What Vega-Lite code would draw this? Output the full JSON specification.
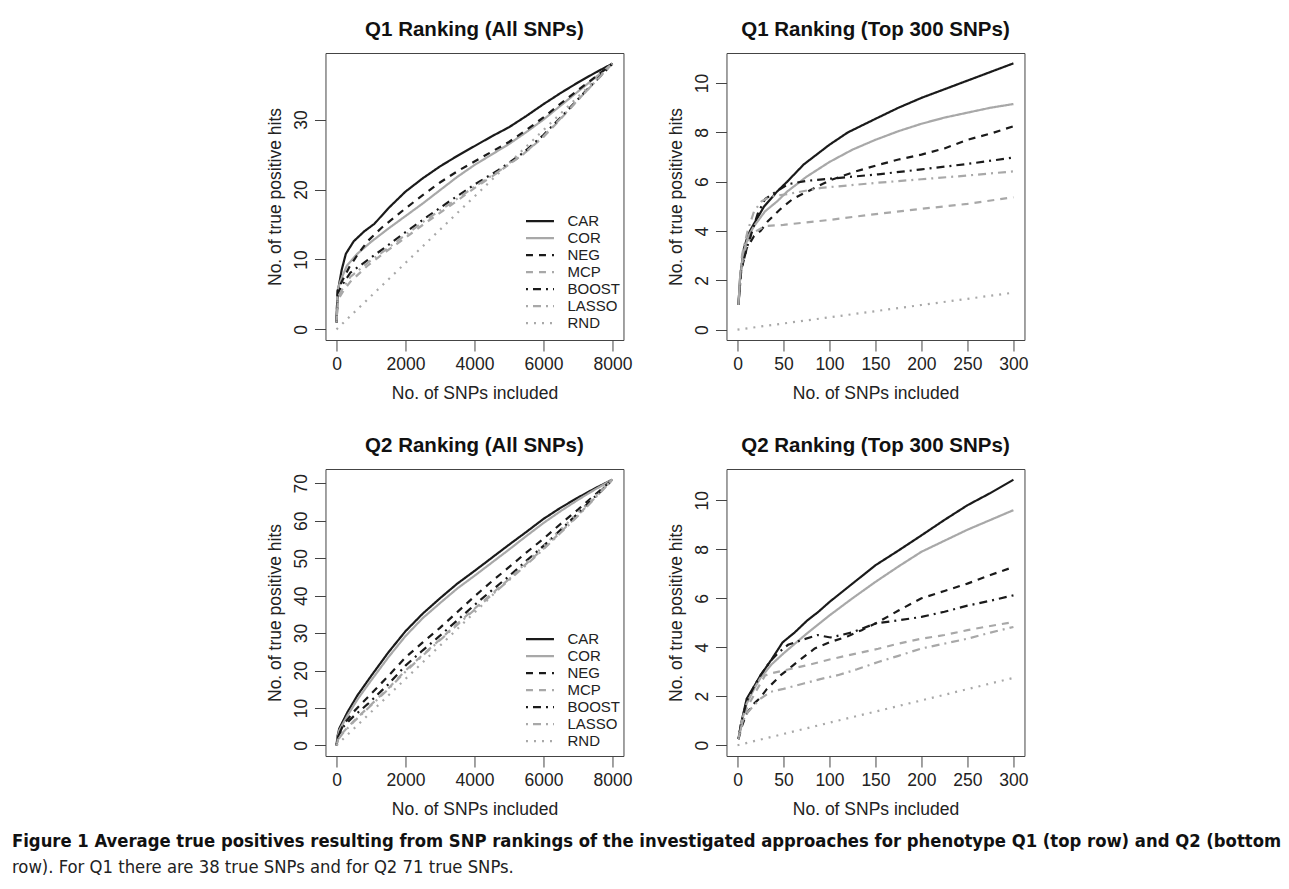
{
"$schema": "https://vega.github.io/schema/vega-lite/v6.json",
"background": "white",
"padding": {"left": 12, "top": 19, "right": 0, "bottom": 0},
"datasets": {
"q1all": [
{"m":"CAR","x":0,"y":1},{"m":"CAR","x":20,"y":4},{"m":"CAR","x":60,"y":6},{"m":"CAR","x":150,"y":8.5},{"m":"CAR","x":270,"y":10.8},{"m":"CAR","x":500,"y":12.6},{"m":"CAR","x":800,"y":14},{"m":"CAR","x":1100,"y":15.1},{"m":"CAR","x":1500,"y":17.3},{"m":"CAR","x":2000,"y":19.7},{"m":"CAR","x":2500,"y":21.6},{"m":"CAR","x":3000,"y":23.3},{"m":"CAR","x":3500,"y":24.8},{"m":"CAR","x":4000,"y":26.2},{"m":"CAR","x":4500,"y":27.6},{"m":"CAR","x":5000,"y":28.9},{"m":"CAR","x":5500,"y":30.5},{"m":"CAR","x":6000,"y":32.2},{"m":"CAR","x":6500,"y":33.8},{"m":"CAR","x":7000,"y":35.3},{"m":"CAR","x":7500,"y":36.7},{"m":"CAR","x":8000,"y":38},
{"m":"COR","x":0,"y":1},{"m":"COR","x":30,"y":5.6},{"m":"COR","x":120,"y":7},{"m":"COR","x":300,"y":9.1},{"m":"COR","x":600,"y":10.8},{"m":"COR","x":1000,"y":12.5},{"m":"COR","x":1500,"y":14.4},{"m":"COR","x":2000,"y":16.2},{"m":"COR","x":2500,"y":18},{"m":"COR","x":3000,"y":19.9},{"m":"COR","x":3500,"y":21.8},{"m":"COR","x":4000,"y":23.5},{"m":"COR","x":4500,"y":25},{"m":"COR","x":5000,"y":26.5},{"m":"COR","x":5500,"y":28.2},{"m":"COR","x":6000,"y":30},{"m":"COR","x":6500,"y":32},{"m":"COR","x":7000,"y":34},{"m":"COR","x":7500,"y":36},{"m":"COR","x":8000,"y":38},
{"m":"NEG","x":0,"y":1},{"m":"NEG","x":30,"y":5.5},{"m":"NEG","x":100,"y":6.3},{"m":"NEG","x":370,"y":8.9},{"m":"NEG","x":600,"y":10.6},{"m":"NEG","x":900,"y":12.6},{"m":"NEG","x":1300,"y":14.5},{"m":"NEG","x":2000,"y":17.3},{"m":"NEG","x":2500,"y":19.2},{"m":"NEG","x":3000,"y":21},{"m":"NEG","x":3500,"y":22.6},{"m":"NEG","x":4000,"y":24},{"m":"NEG","x":4500,"y":25.4},{"m":"NEG","x":5000,"y":26.8},{"m":"NEG","x":5500,"y":28.5},{"m":"NEG","x":6000,"y":30.3},{"m":"NEG","x":6500,"y":32.3},{"m":"NEG","x":7000,"y":34.2},{"m":"NEG","x":7500,"y":36.1},{"m":"NEG","x":8000,"y":38},
{"m":"MCP","x":0,"y":1},{"m":"MCP","x":40,"y":4.2},{"m":"MCP","x":200,"y":5.5},{"m":"MCP","x":400,"y":6.8},{"m":"MCP","x":900,"y":9.1},{"m":"MCP","x":1400,"y":11},{"m":"MCP","x":2000,"y":13.1},{"m":"MCP","x":2600,"y":15.3},{"m":"MCP","x":3300,"y":17.7},{"m":"MCP","x":4000,"y":20.2},{"m":"MCP","x":4700,"y":22.5},{"m":"MCP","x":5400,"y":25},{"m":"MCP","x":6000,"y":27.5},{"m":"MCP","x":6500,"y":30.1},{"m":"MCP","x":7000,"y":32.8},{"m":"MCP","x":7500,"y":35.4},{"m":"MCP","x":8000,"y":38},
{"m":"BOOST","x":0,"y":1},{"m":"BOOST","x":40,"y":5},{"m":"BOOST","x":120,"y":6},{"m":"BOOST","x":400,"y":8.1},{"m":"BOOST","x":900,"y":9.9},{"m":"BOOST","x":1400,"y":11.7},{"m":"BOOST","x":2000,"y":13.9},{"m":"BOOST","x":2600,"y":16},{"m":"BOOST","x":3300,"y":18.4},{"m":"BOOST","x":4000,"y":20.7},{"m":"BOOST","x":4700,"y":22.8},{"m":"BOOST","x":5400,"y":25.2},{"m":"BOOST","x":6000,"y":27.8},{"m":"BOOST","x":6500,"y":30.3},{"m":"BOOST","x":7000,"y":32.9},{"m":"BOOST","x":7500,"y":35.5},{"m":"BOOST","x":8000,"y":38},
{"m":"LASSO","x":0,"y":1},{"m":"LASSO","x":40,"y":4.6},{"m":"LASSO","x":150,"y":5.6},{"m":"LASSO","x":400,"y":7.5},{"m":"LASSO","x":900,"y":9.5},{"m":"LASSO","x":1400,"y":11.3},{"m":"LASSO","x":2000,"y":13.5},{"m":"LASSO","x":2600,"y":15.7},{"m":"LASSO","x":3300,"y":18},{"m":"LASSO","x":4000,"y":20.4},{"m":"LASSO","x":4700,"y":22.6},{"m":"LASSO","x":5400,"y":25},{"m":"LASSO","x":6000,"y":27.6},{"m":"LASSO","x":6500,"y":30.2},{"m":"LASSO","x":7000,"y":32.8},{"m":"LASSO","x":7500,"y":35.4},{"m":"LASSO","x":8000,"y":38},
{"m":"RND","x":0,"y":0},{"m":"RND","x":2000,"y":9.5},{"m":"RND","x":4000,"y":19},{"m":"RND","x":6000,"y":28.5},{"m":"RND","x":8000,"y":38}
],
"q1top": [
{"m":"CAR","x":1,"y":1},{"m":"CAR","x":3,"y":2.2},{"m":"CAR","x":7,"y":3.3},{"m":"CAR","x":12,"y":3.9},{"m":"CAR","x":18,"y":4.3},{"m":"CAR","x":29,"y":5},{"m":"CAR","x":43,"y":5.6},{"m":"CAR","x":54,"y":6},{"m":"CAR","x":72,"y":6.7},{"m":"CAR","x":100,"y":7.5},{"m":"CAR","x":120,"y":8},{"m":"CAR","x":150,"y":8.55},{"m":"CAR","x":175,"y":9},{"m":"CAR","x":200,"y":9.4},{"m":"CAR","x":225,"y":9.75},{"m":"CAR","x":250,"y":10.1},{"m":"CAR","x":275,"y":10.45},{"m":"CAR","x":300,"y":10.8},
{"m":"COR","x":1,"y":1},{"m":"COR","x":3,"y":2.2},{"m":"COR","x":7,"y":3.2},{"m":"COR","x":12,"y":3.8},{"m":"COR","x":18,"y":4.2},{"m":"COR","x":30,"y":4.8},{"m":"COR","x":43,"y":5.2},{"m":"COR","x":54,"y":5.6},{"m":"COR","x":75,"y":6.2},{"m":"COR","x":100,"y":6.8},{"m":"COR","x":125,"y":7.3},{"m":"COR","x":150,"y":7.7},{"m":"COR","x":175,"y":8.05},{"m":"COR","x":200,"y":8.35},{"m":"COR","x":225,"y":8.6},{"m":"COR","x":250,"y":8.8},{"m":"COR","x":275,"y":9},{"m":"COR","x":300,"y":9.15},
{"m":"NEG","x":1,"y":1},{"m":"NEG","x":4,"y":2.4},{"m":"NEG","x":10,"y":3.3},{"m":"NEG","x":18,"y":3.8},{"m":"NEG","x":25,"y":4},{"m":"NEG","x":33,"y":4.4},{"m":"NEG","x":47,"y":4.9},{"m":"NEG","x":60,"y":5.3},{"m":"NEG","x":76,"y":5.6},{"m":"NEG","x":100,"y":6.05},{"m":"NEG","x":127,"y":6.4},{"m":"NEG","x":150,"y":6.65},{"m":"NEG","x":175,"y":6.9},{"m":"NEG","x":200,"y":7.1},{"m":"NEG","x":225,"y":7.35},{"m":"NEG","x":250,"y":7.7},{"m":"NEG","x":275,"y":7.95},{"m":"NEG","x":300,"y":8.25},
{"m":"MCP","x":1,"y":1},{"m":"MCP","x":3,"y":2.2},{"m":"MCP","x":6,"y":2.9},{"m":"MCP","x":10,"y":3.5},{"m":"MCP","x":18,"y":3.95},{"m":"MCP","x":30,"y":4.2},{"m":"MCP","x":50,"y":4.25},{"m":"MCP","x":75,"y":4.35},{"m":"MCP","x":100,"y":4.45},{"m":"MCP","x":142,"y":4.65},{"m":"MCP","x":200,"y":4.9},{"m":"MCP","x":250,"y":5.1},{"m":"MCP","x":300,"y":5.37},
{"m":"BOOST","x":1,"y":1},{"m":"BOOST","x":4,"y":2.4},{"m":"BOOST","x":10,"y":3.3},{"m":"BOOST","x":16,"y":4},{"m":"BOOST","x":22,"y":4.7},{"m":"BOOST","x":30,"y":5.3},{"m":"BOOST","x":42,"y":5.6},{"m":"BOOST","x":55,"y":5.9},{"m":"BOOST","x":76,"y":6.04},{"m":"BOOST","x":100,"y":6.12},{"m":"BOOST","x":153,"y":6.3},{"m":"BOOST","x":200,"y":6.5},{"m":"BOOST","x":250,"y":6.72},{"m":"BOOST","x":300,"y":6.98},
{"m":"LASSO","x":1,"y":1},{"m":"LASSO","x":3,"y":2.2},{"m":"LASSO","x":5,"y":3.05},{"m":"LASSO","x":11,"y":4},{"m":"LASSO","x":18,"y":4.8},{"m":"LASSO","x":26,"y":5.2},{"m":"LASSO","x":36,"y":5.4},{"m":"LASSO","x":55,"y":5.5},{"m":"LASSO","x":91,"y":5.75},{"m":"LASSO","x":150,"y":5.95},{"m":"LASSO","x":200,"y":6.1},{"m":"LASSO","x":250,"y":6.25},{"m":"LASSO","x":300,"y":6.42},
{"m":"RND","x":0,"y":0},{"m":"RND","x":100,"y":0.5},{"m":"RND","x":200,"y":1},{"m":"RND","x":300,"y":1.5}
],
"q2all": [
{"m":"CAR","x":0,"y":0},{"m":"CAR","x":30,"y":2.5},{"m":"CAR","x":80,"y":4.5},{"m":"CAR","x":320,"y":8.9},{"m":"CAR","x":610,"y":13.4},{"m":"CAR","x":1000,"y":18.5},{"m":"CAR","x":1500,"y":24.8},{"m":"CAR","x":2000,"y":30.5},{"m":"CAR","x":2500,"y":35.2},{"m":"CAR","x":3000,"y":39.3},{"m":"CAR","x":3500,"y":43.2},{"m":"CAR","x":4000,"y":46.6},{"m":"CAR","x":4500,"y":50.1},{"m":"CAR","x":5000,"y":53.6},{"m":"CAR","x":5500,"y":57},{"m":"CAR","x":6000,"y":60.5},{"m":"CAR","x":6500,"y":63.5},{"m":"CAR","x":7000,"y":66.2},{"m":"CAR","x":7500,"y":68.7},{"m":"CAR","x":8000,"y":71},
{"m":"COR","x":0,"y":0},{"m":"COR","x":30,"y":2.2},{"m":"COR","x":80,"y":4},{"m":"COR","x":320,"y":8},{"m":"COR","x":610,"y":12.3},{"m":"COR","x":1000,"y":17.3},{"m":"COR","x":1500,"y":23.5},{"m":"COR","x":2000,"y":29.2},{"m":"COR","x":2500,"y":34},{"m":"COR","x":3000,"y":38},{"m":"COR","x":3500,"y":41.9},{"m":"COR","x":4000,"y":45.3},{"m":"COR","x":4500,"y":48.8},{"m":"COR","x":5000,"y":52.3},{"m":"COR","x":5500,"y":55.9},{"m":"COR","x":6000,"y":59.4},{"m":"COR","x":6500,"y":62.6},{"m":"COR","x":7000,"y":65.6},{"m":"COR","x":7500,"y":68.4},{"m":"COR","x":8000,"y":71},
{"m":"NEG","x":0,"y":0},{"m":"NEG","x":50,"y":2.5},{"m":"NEG","x":200,"y":5.5},{"m":"NEG","x":500,"y":9},{"m":"NEG","x":900,"y":12.8},{"m":"NEG","x":1500,"y":18.5},{"m":"NEG","x":2000,"y":23.5},{"m":"NEG","x":2500,"y":27.5},{"m":"NEG","x":3000,"y":31.4},{"m":"NEG","x":3500,"y":35.6},{"m":"NEG","x":4000,"y":39.8},{"m":"NEG","x":4500,"y":43.8},{"m":"NEG","x":5000,"y":47.6},{"m":"NEG","x":5500,"y":51.5},{"m":"NEG","x":6000,"y":55.2},{"m":"NEG","x":6500,"y":59.2},{"m":"NEG","x":7000,"y":63},{"m":"NEG","x":7500,"y":67},{"m":"NEG","x":8000,"y":71},
{"m":"MCP","x":0,"y":0},{"m":"MCP","x":50,"y":1.8},{"m":"MCP","x":200,"y":3.6},{"m":"MCP","x":500,"y":6.5},{"m":"MCP","x":900,"y":10},{"m":"MCP","x":1500,"y":15.2},{"m":"MCP","x":2000,"y":20},{"m":"MCP","x":2500,"y":24.2},{"m":"MCP","x":3000,"y":28.3},{"m":"MCP","x":3500,"y":32.5},{"m":"MCP","x":4000,"y":36.5},{"m":"MCP","x":4500,"y":40.5},{"m":"MCP","x":5000,"y":44.4},{"m":"MCP","x":5500,"y":48.5},{"m":"MCP","x":6000,"y":52.6},{"m":"MCP","x":6500,"y":57},{"m":"MCP","x":7000,"y":61.5},{"m":"MCP","x":7500,"y":66.2},{"m":"MCP","x":8000,"y":71},
{"m":"BOOST","x":0,"y":0},{"m":"BOOST","x":50,"y":2.5},{"m":"BOOST","x":200,"y":5},{"m":"BOOST","x":500,"y":7.8},{"m":"BOOST","x":900,"y":11},{"m":"BOOST","x":1500,"y":16.3},{"m":"BOOST","x":2000,"y":21.3},{"m":"BOOST","x":2500,"y":25.4},{"m":"BOOST","x":3000,"y":29.3},{"m":"BOOST","x":3500,"y":33.4},{"m":"BOOST","x":4000,"y":37.5},{"m":"BOOST","x":4500,"y":41.4},{"m":"BOOST","x":5000,"y":45.2},{"m":"BOOST","x":5500,"y":49.3},{"m":"BOOST","x":6000,"y":53.3},{"m":"BOOST","x":6500,"y":57.6},{"m":"BOOST","x":7000,"y":62},{"m":"BOOST","x":7500,"y":66.5},{"m":"BOOST","x":8000,"y":71},
{"m":"LASSO","x":0,"y":0},{"m":"LASSO","x":50,"y":1.6},{"m":"LASSO","x":200,"y":3.4},{"m":"LASSO","x":500,"y":6.3},{"m":"LASSO","x":900,"y":9.8},{"m":"LASSO","x":1500,"y":15},{"m":"LASSO","x":2000,"y":19.7},{"m":"LASSO","x":2500,"y":24},{"m":"LASSO","x":3000,"y":28.1},{"m":"LASSO","x":3500,"y":32.2},{"m":"LASSO","x":4000,"y":36.2},{"m":"LASSO","x":4500,"y":40.2},{"m":"LASSO","x":5000,"y":44.1},{"m":"LASSO","x":5500,"y":48.2},{"m":"LASSO","x":6000,"y":52.4},{"m":"LASSO","x":6500,"y":56.8},{"m":"LASSO","x":7000,"y":61.3},{"m":"LASSO","x":7500,"y":66.1},{"m":"LASSO","x":8000,"y":71},
{"m":"RND","x":0,"y":0},{"m":"RND","x":2000,"y":17.75},{"m":"RND","x":4000,"y":35.5},{"m":"RND","x":6000,"y":53.25},{"m":"RND","x":8000,"y":71}
],
"q2top": [
{"m":"CAR","x":1,"y":0.25},{"m":"CAR","x":4,"y":0.9},{"m":"CAR","x":10,"y":1.9},{"m":"CAR","x":18,"y":2.4},{"m":"CAR","x":25,"y":2.85},{"m":"CAR","x":37,"y":3.5},{"m":"CAR","x":49,"y":4.2},{"m":"CAR","x":62,"y":4.6},{"m":"CAR","x":76,"y":5.1},{"m":"CAR","x":88,"y":5.45},{"m":"CAR","x":100,"y":5.85},{"m":"CAR","x":125,"y":6.6},{"m":"CAR","x":150,"y":7.35},{"m":"CAR","x":175,"y":7.95},{"m":"CAR","x":200,"y":8.57},{"m":"CAR","x":225,"y":9.2},{"m":"CAR","x":250,"y":9.8},{"m":"CAR","x":275,"y":10.3},{"m":"CAR","x":300,"y":10.84},
{"m":"COR","x":1,"y":0.25},{"m":"COR","x":4,"y":0.9},{"m":"COR","x":10,"y":1.7},{"m":"COR","x":18,"y":2.3},{"m":"COR","x":25,"y":2.75},{"m":"COR","x":37,"y":3.3},{"m":"COR","x":50,"y":3.75},{"m":"COR","x":75,"y":4.55},{"m":"COR","x":100,"y":5.3},{"m":"COR","x":125,"y":6},{"m":"COR","x":150,"y":6.67},{"m":"COR","x":175,"y":7.3},{"m":"COR","x":200,"y":7.9},{"m":"COR","x":225,"y":8.35},{"m":"COR","x":250,"y":8.8},{"m":"COR","x":275,"y":9.2},{"m":"COR","x":300,"y":9.6},
{"m":"NEG","x":1,"y":0.25},{"m":"NEG","x":5,"y":0.8},{"m":"NEG","x":10,"y":1.3},{"m":"NEG","x":18,"y":1.7},{"m":"NEG","x":25,"y":1.95},{"m":"NEG","x":32,"y":2.3},{"m":"NEG","x":47,"y":2.86},{"m":"NEG","x":65,"y":3.4},{"m":"NEG","x":84,"y":3.95},{"m":"NEG","x":100,"y":4.2},{"m":"NEG","x":120,"y":4.45},{"m":"NEG","x":135,"y":4.7},{"m":"NEG","x":153,"y":5.03},{"m":"NEG","x":175,"y":5.5},{"m":"NEG","x":200,"y":6},{"m":"NEG","x":225,"y":6.3},{"m":"NEG","x":250,"y":6.6},{"m":"NEG","x":275,"y":6.95},{"m":"NEG","x":300,"y":7.28},
{"m":"MCP","x":1,"y":0.25},{"m":"MCP","x":5,"y":0.9},{"m":"MCP","x":10,"y":1.5},{"m":"MCP","x":20,"y":2.2},{"m":"MCP","x":30,"y":2.85},{"m":"MCP","x":36,"y":2.93},{"m":"MCP","x":50,"y":3.05},{"m":"MCP","x":76,"y":3.27},{"m":"MCP","x":100,"y":3.5},{"m":"MCP","x":120,"y":3.67},{"m":"MCP","x":153,"y":3.94},{"m":"MCP","x":175,"y":4.15},{"m":"MCP","x":200,"y":4.35},{"m":"MCP","x":225,"y":4.5},{"m":"MCP","x":250,"y":4.7},{"m":"MCP","x":275,"y":4.87},{"m":"MCP","x":300,"y":5.03},
{"m":"BOOST","x":1,"y":0.25},{"m":"BOOST","x":4,"y":0.9},{"m":"BOOST","x":10,"y":1.8},{"m":"BOOST","x":18,"y":2.4},{"m":"BOOST","x":25,"y":2.85},{"m":"BOOST","x":35,"y":3.4},{"m":"BOOST","x":45,"y":3.8},{"m":"BOOST","x":55,"y":4.1},{"m":"BOOST","x":70,"y":4.3},{"m":"BOOST","x":87,"y":4.5},{"m":"BOOST","x":101,"y":4.4},{"m":"BOOST","x":124,"y":4.6},{"m":"BOOST","x":150,"y":4.97},{"m":"BOOST","x":175,"y":5.1},{"m":"BOOST","x":200,"y":5.24},{"m":"BOOST","x":225,"y":5.45},{"m":"BOOST","x":250,"y":5.7},{"m":"BOOST","x":275,"y":5.9},{"m":"BOOST","x":300,"y":6.12},
{"m":"LASSO","x":1,"y":0.25},{"m":"LASSO","x":5,"y":0.9},{"m":"LASSO","x":10,"y":1.3},{"m":"LASSO","x":18,"y":1.63},{"m":"LASSO","x":25,"y":1.9},{"m":"LASSO","x":36,"y":2.18},{"m":"LASSO","x":50,"y":2.3},{"m":"LASSO","x":72,"y":2.52},{"m":"LASSO","x":90,"y":2.7},{"m":"LASSO","x":109,"y":2.86},{"m":"LASSO","x":130,"y":3.1},{"m":"LASSO","x":153,"y":3.4},{"m":"LASSO","x":175,"y":3.65},{"m":"LASSO","x":200,"y":3.95},{"m":"LASSO","x":225,"y":4.15},{"m":"LASSO","x":250,"y":4.35},{"m":"LASSO","x":275,"y":4.6},{"m":"LASSO","x":300,"y":4.83},
{"m":"RND","x":0,"y":0},{"m":"RND","x":100,"y":0.92},{"m":"RND","x":200,"y":1.83},{"m":"RND","x":300,"y":2.75}
]
},
"vconcat": [
{
"concat": [
{
"data": {"name": "q1all"},
"title": "Q1 Ranking (All SNPs)",
"width": 298, "height": 287,
"mark": {"type": "line", "strokeWidth": 2.2, "strokeCap": "butt"},
"encoding": {
"x": {"field": "x", "type": "quantitative", "scale": {"domain": [-320, 8320], "nice": false, "zero": false}, "axis": {"values": [0, 2000, 4000, 6000, 8000], "format": "d", "title": "No. of SNPs included"}},
"y": {"field": "y", "type": "quantitative", "scale": {"domain": [-1.52, 39.52], "nice": false, "zero": false}, "axis": {"values": [0, 10, 20, 30], "title": "No. of true positive hits"}},
"color": {"field": "m", "type": "nominal", "scale": {"domain": ["CAR","COR","NEG","MCP","BOOST","LASSO","RND"], "range": ["#1a1a1a","#a8a8a8","#1a1a1a","#a8a8a8","#1a1a1a","#a8a8a8","#a8a8a8"]}, "legend": {"orient": "none", "legendX": 199, "legendY": 160, "title": null, "padding": 0, "symbolType": "stroke", "symbolSize": 784, "symbolStrokeWidth": 2.2, "labelFontSize": 15, "labelOffset": 12, "rowPadding": 0, "clipHeight": 16.4}},
"strokeDash": {"field": "m", "type": "nominal", "scale": {"domain": ["CAR","COR","NEG","MCP","BOOST","LASSO","RND"], "range": [[1,0],[1,0],[7,6],[7,6],[2,5,8,5],[2,5,8,5],[2,6]]}, "legend": {"orient": "none", "legendX": 199, "legendY": 160, "title": null, "padding": 0, "symbolType": "stroke", "symbolSize": 784, "symbolStrokeWidth": 2.2, "labelFontSize": 15, "labelOffset": 12, "rowPadding": 0, "clipHeight": 16.4}}
}
},
{
"data": {"name": "q1top"},
"title": "Q1 Ranking (Top 300 SNPs)",
"width": 298, "height": 287,
"mark": {"type": "line", "strokeWidth": 2.2, "strokeCap": "butt"},
"encoding": {
"x": {"field": "x", "type": "quantitative", "scale": {"domain": [-12, 312], "nice": false, "zero": false}, "axis": {"values": [0, 50, 100, 150, 200, 250, 300], "title": "No. of SNPs included"}},
"y": {"field": "y", "type": "quantitative", "scale": {"domain": [-0.42, 11.22], "nice": false, "zero": false}, "axis": {"values": [0, 2, 4, 6, 8, 10], "title": "No. of true positive hits"}},
"color": {"field": "m", "type": "nominal", "scale": {"domain": ["CAR","COR","NEG","MCP","BOOST","LASSO","RND"], "range": ["#1a1a1a","#a8a8a8","#1a1a1a","#a8a8a8","#1a1a1a","#a8a8a8","#a8a8a8"]}, "legend": null},
"strokeDash": {"field": "m", "type": "nominal", "scale": {"domain": ["CAR","COR","NEG","MCP","BOOST","LASSO","RND"], "range": [[1,0],[1,0],[7,6],[7,6],[2,5,8,5],[2,5,8,5],[2,6]]}, "legend": null}
}
},
{
"data": {"name": "q2all"},
"title": "Q2 Ranking (All SNPs)",
"width": 298, "height": 287,
"mark": {"type": "line", "strokeWidth": 2.2, "strokeCap": "butt"},
"encoding": {
"x": {"field": "x", "type": "quantitative", "scale": {"domain": [-320, 8320], "nice": false, "zero": false}, "axis": {"values": [0, 2000, 4000, 6000, 8000], "format": "d", "title": "No. of SNPs included"}},
"y": {"field": "y", "type": "quantitative", "scale": {"domain": [-2.84, 73.84], "nice": false, "zero": false}, "axis": {"values": [0, 10, 20, 30, 40, 50, 60, 70], "title": "No. of true positive hits"}},
"color": {"field": "m", "type": "nominal", "scale": {"domain": ["CAR","COR","NEG","MCP","BOOST","LASSO","RND"], "range": ["#1a1a1a","#a8a8a8","#1a1a1a","#a8a8a8","#1a1a1a","#a8a8a8","#a8a8a8"]}, "legend": {"orient": "none", "legendX": 199, "legendY": 162, "title": null, "padding": 0, "symbolType": "stroke", "symbolSize": 784, "symbolStrokeWidth": 2.2, "labelFontSize": 15, "labelOffset": 12, "rowPadding": 0, "clipHeight": 16.4}},
"strokeDash": {"field": "m", "type": "nominal", "scale": {"domain": ["CAR","COR","NEG","MCP","BOOST","LASSO","RND"], "range": [[1,0],[1,0],[7,6],[7,6],[2,5,8,5],[2,5,8,5],[2,6]]}, "legend": {"orient": "none", "legendX": 199, "legendY": 162, "title": null, "padding": 0, "symbolType": "stroke", "symbolSize": 784, "symbolStrokeWidth": 2.2, "labelFontSize": 15, "labelOffset": 12, "rowPadding": 0, "clipHeight": 16.4}}
}
},
{
"data": {"name": "q2top"},
"title": "Q2 Ranking (Top 300 SNPs)",
"width": 298, "height": 287,
"mark": {"type": "line", "strokeWidth": 2.2, "strokeCap": "butt"},
"encoding": {
"x": {"field": "x", "type": "quantitative", "scale": {"domain": [-12, 312], "nice": false, "zero": false}, "axis": {"values": [0, 50, 100, 150, 200, 250, 300], "title": "No. of SNPs included"}},
"y": {"field": "y", "type": "quantitative", "scale": {"domain": [-0.44, 11.28], "nice": false, "zero": false}, "axis": {"values": [0, 2, 4, 6, 8, 10], "title": "No. of true positive hits"}},
"color": {"field": "m", "type": "nominal", "scale": {"domain": ["CAR","COR","NEG","MCP","BOOST","LASSO","RND"], "range": ["#1a1a1a","#a8a8a8","#1a1a1a","#a8a8a8","#1a1a1a","#a8a8a8","#a8a8a8"]}, "legend": null},
"strokeDash": {"field": "m", "type": "nominal", "scale": {"domain": ["CAR","COR","NEG","MCP","BOOST","LASSO","RND"], "range": [[1,0],[1,0],[7,6],[7,6],[2,5,8,5],[2,5,8,5],[2,6]]}, "legend": null}
}
}
],
"columns": 2,
"spacing": {"row": 32, "column": 34},
"resolve": {"scale": {"x": "independent", "y": "independent", "color": "independent", "strokeDash": "independent"}, "legend": {"color": "independent", "strokeDash": "independent"}}
},
{
"width": 1330, "height": 1,
"data": {"values": []},
"mark": "point",
"view": {"stroke": null},
"title": {"text": "Figure 1 Average true positives resulting from SNP rankings of the investigated approaches for phenotype Q1 (top row) and Q2 (bottom", "subtitle": "row). For Q1 there are 38 true SNPs and for Q2 71 true SNPs.", "anchor": "start", "frame": "group", "font": "Liberation Sans Narrow, DejaVu Sans Condensed, sans-serif", "fontSize": 18.3, "fontWeight": "bold", "color": "#111", "subtitleFont": "Liberation Sans Narrow, DejaVu Sans Condensed, sans-serif", "subtitleFontSize": 18.3, "subtitleFontWeight": "normal", "subtitleColor": "#222", "subtitlePadding": 7, "offset": 0}
}
],
"center": true,
"spacing": 13,
"config": {
"font": "Liberation Sans",
"view": {"stroke": "#444", "strokeWidth": 1},
"title": {"font": "Liberation Sans", "fontSize": 20.5, "fontWeight": "bold", "color": "#111", "offset": 13},
"axis": {"domain": false, "grid": false, "tickSize": 11, "tickColor": "#444", "tickWidth": 1, "labelFont": "Liberation Sans", "labelFontSize": 17.5, "labelColor": "#222", "labelOverlap": false, "labelFlush": false, "titleFont": "Liberation Sans", "titleFontSize": 17.5, "titleFontWeight": "normal", "titleColor": "#222"},
"axisX": {"labelPadding": 4, "titlePadding": 12},
"axisY": {"labelAngle": 270, "labelAlign": "center", "labelBaseline": "bottom", "labelPadding": 4, "titlePadding": 8},
"legend": {"labelFont": "Liberation Sans", "labelColor": "#222"}
}
}
